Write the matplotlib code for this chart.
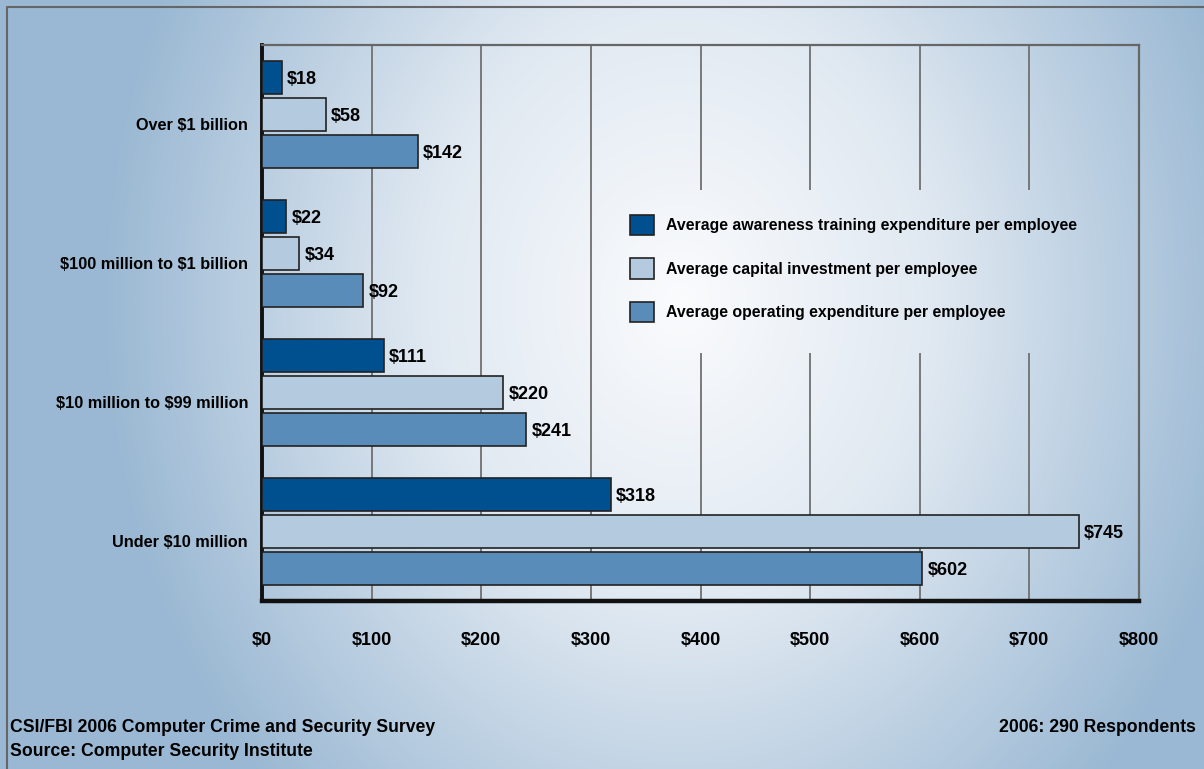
import numpy as np
import matplotlib
matplotlib.use("Agg")
import matplotlib.pyplot as plt
from matplotlib.patches import Patch
from matplotlib.colors import LinearSegmentedColormap

plt.rcParams["text.parse_math"] = False

categories = ["Over $1 billion", "$100 million to $1 billion", "$10 million to $99 million", "Under $10 million"]
series_names = ["Average awareness training expenditure per employee",
                "Average capital investment per employee",
                "Average operating expenditure per employee"]
training = [18, 22, 111, 318]
capital = [58, 34, 220, 745]
operating = [142, 92, 241, 602]
x_ticks = [0, 100, 200, 300, 400, 500, 600, 700, 800]
x_tick_labels = ["$0", "$100", "$200", "$300", "$400", "$500", "$600", "$700", "$800"]

colors = ["#00508f", "#b4cade", "#5a8cb9"]
FONT = ["Liberation Sans", "DejaVu Sans"]
plt.rcParams["font.family"] = FONT

W, H = 1204, 769
fig = plt.figure(figsize=(W / 100, H / 100), dpi=100)

# background gradient
bg = fig.add_axes([0, 0, 1, 1], zorder=-10)
yy, xx = np.mgrid[0:H, 0:W]
cx, cy = 680, 300
d = np.sqrt(((xx - cx) / 580.0) ** 2 + ((yy - cy) / 700.0) ** 2)
d = np.clip(d, 0, 1)
cmap = LinearSegmentedColormap.from_list("bg", [(0, "#fafbfd"), (0.45, "#dfe8f1"), (1, "#9ab8d3")])
bg.imshow(d, cmap=cmap, vmin=0, vmax=1, aspect="auto", extent=[0, W, H, 0])
bg.plot([7, 7, 1204], [769, 7, 7], color="#666666", lw=1.5)
bg.set_xlim(0, W)
bg.set_ylim(H, 0)
bg.axis("off")

ax = fig.add_axes([262 / W, 1 - 601 / H, (1139 - 262) / W, (601 - 45) / H])
ax.patch.set_alpha(0)

y = np.arange(len(categories))
h = 0.237
off = 0.266
for vals, col, k, name in zip([training, capital, operating], colors, [-1, 0, 1], series_names):
    bars = ax.barh(y + k * off, vals, height=h, color=col, edgecolor="#222222", linewidth=1.2, zorder=3, label=name)
    for b, v in zip(bars, vals):
        ax.text(b.get_width() + 5, b.get_y() + b.get_height() / 2 + 0.015, f"${v}", va="center", ha="left",
                fontsize=13, fontweight="bold", zorder=4)

ax.set_ylim(3.5, -0.5)
ax.set_xlim(0, 800)
ax.set_xticks(x_ticks)
ax.set_xticklabels(x_tick_labels, fontsize=13, fontweight="bold")
ax.set_yticks(y + 0.07)
ax.set_yticklabels(categories, fontsize=11.7, fontweight="bold")
ax.tick_params(axis="both", length=0)
ax.tick_params(axis="x", pad=22)
ax.tick_params(axis="y", pad=10)

# gridlines (interrupted behind the legend area for $400-$700)
leg_top, leg_bot = 0.543, 1.716
full = [t for t in x_ticks[1:-1] if t < 400]
split = [t for t in x_ticks[1:-1] if t >= 400]
ax.vlines(full, -0.5, 3.5, color="#707070", lw=1.3, zorder=1)
ax.vlines(split, -0.5, leg_top, color="#707070", lw=1.3, zorder=1)
ax.vlines(split, leg_bot, 3.5, color="#707070", lw=1.3, zorder=1)

for s in ["top", "right"]:
    ax.spines[s].set_color("#666666")
    ax.spines[s].set_linewidth(1.6)
ax.spines["left"].set_linewidth(2.8)
ax.spines["bottom"].set_linewidth(3.2)
ax.spines["left"].set_color("#111111")
ax.spines["bottom"].set_color("#111111")

handles = [Patch(facecolor=c, edgecolor="#222222", linewidth=1.2) for c in colors]
ax.legend(handles, series_names, loc="upper left",
          bbox_to_anchor=((630 - 262) / 877, 1 - (215 - 45) / 556),
          frameon=False, prop={"weight": "bold", "size": 11.4},
          borderpad=0, borderaxespad=0,
          handlelength=1.52, handleheight=1.6, handletextpad=0.75, labelspacing=1.45)

fig.text(10 / W, 1 - 727 / H, "CSI/FBI 2006 Computer Crime and Security Survey", fontsize=12.7, fontweight="bold",
         va="center", ha="left")
fig.text(10 / W, 1 - 751 / H, "Source: Computer Security Institute", fontsize=12.7, fontweight="bold",
         va="center", ha="left")
fig.text(1196 / W, 1 - 727 / H, "2006: 290 Respondents", fontsize=12.7, fontweight="bold",
         va="center", ha="right")

fig.savefig("out.png", dpi=100)
